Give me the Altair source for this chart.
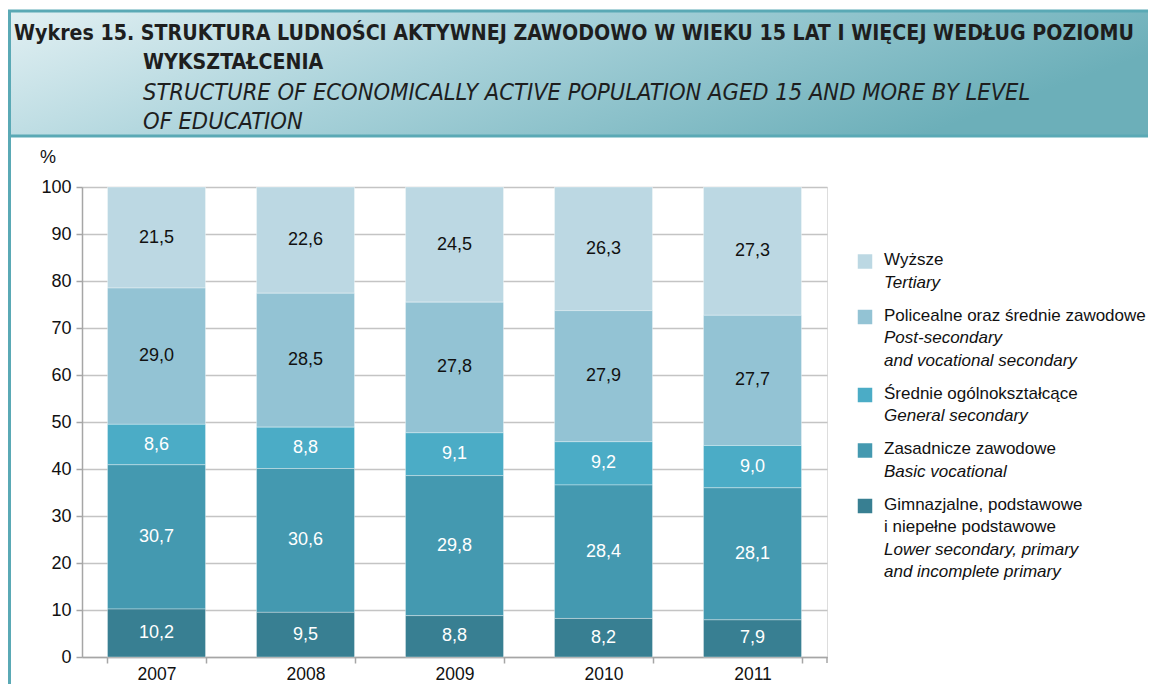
import altair as alt
import pandas as pd

# ---------------- data ----------------
years = ["2007", "2008", "2009", "2010", "2011"]
categories = [
    "Wyższe",
    "Policealne oraz średnie zawodowe",
    "Średnie ogólnokształcące",
    "Zasadnicze zawodowe",
    "Gimnazjalne, podstawowe i niepełne podstawowe",
]
tertiary = [21.5, 22.6, 24.5, 26.3, 27.3]
post_secondary = [29.0, 28.5, 27.8, 27.9, 27.7]
general_secondary = [8.6, 8.8, 9.1, 9.2, 9.0]
basic_vocational = [30.7, 30.6, 29.8, 28.4, 28.1]
lower_secondary = [10.2, 9.5, 8.8, 8.2, 7.9]

legend_pl = [
    ["Wyższe"],
    ["Policealne oraz średnie zawodowe"],
    ["Średnie ogólnokształcące"],
    ["Zasadnicze zawodowe"],
    ["Gimnazjalne, podstawowe", "i niepełne podstawowe"],
]
legend_en = [
    ["Tertiary"],
    ["Post-secondary", "and vocational secondary"],
    ["General secondary"],
    ["Basic vocational"],
    ["Lower secondary, primary", "and incomplete primary"],
]
title_bold = ["Wykres 15. STRUKTURA LUDNOŚCI AKTYWNEJ ZAWODOWO W WIEKU 15 LAT I WIĘCEJ WEDŁUG POZIOMU",
              "WYKSZTAŁCENIA"]
title_italic = ["STRUCTURE OF ECONOMICALLY ACTIVE POPULATION AGED 15 AND MORE BY LEVEL",
                "OF EDUCATION"]
y_unit = "%"

# ---------------- styles ----------------
colors = ["#bcd8e3", "#93c3d4", "#4bacc6", "#4499b0", "#387f92"]
FONT = "Liberation Sans"
NARROW = "'DejaVu Sans Condensed', 'Liberation Sans', sans-serif"
TEAL = "#5aa9b5"

series = [tertiary, post_secondary, general_secondary, basic_vocational, lower_secondary]
rows = []
for ci, (cat, vals) in enumerate(zip(categories, series)):
    for y, v in zip(years, vals):
        rows.append({"year": y, "category": cat, "value": v, "order": len(categories) - 1 - ci})
df = pd.DataFrame(rows)

color_scale = alt.Scale(domain=categories, range=colors)

base = alt.Chart(df)
bars = base.mark_bar(stroke="white", strokeWidth=1, strokeOpacity=0.35).encode(
    x=alt.X("year:N", sort=years,
            scale=alt.Scale(paddingInner=0.342, paddingOuter=0.171),
            axis=alt.Axis(title=None, labelAngle=0, labelFont=FONT, labelFontSize=17.5,
                          labelColor="#111", labelPadding=2, tickBand="extent",
                          tickColor="#a6a6a6", tickSize=6, domainColor="#a6a6a6",
                          domainWidth=1.5, tickWidth=1.5)),
    y=alt.Y("value:Q", stack="zero",
            scale=alt.Scale(domain=[0, 100], nice=False),
            axis=alt.Axis(title=None, values=list(range(0, 101, 10)), labelFont=FONT,
                          labelFontSize=18, labelColor="#111", labelPadding=5,
                          gridColor="#c4c4c4", gridWidth=1.5, tickColor="#a6a6a6",
                          tickSize=6, tickWidth=1.5, domainColor="#a6a6a6", domainWidth=1.5)),
    color=alt.Color("category:N", scale=color_scale, legend=None),
    order=alt.Order("order:Q"),
)

labels = base.transform_stack(
    stack="value", as_=["v0", "v1"], groupby=["year"], sort=[alt.SortField("order")]
).transform_calculate(
    mid="(datum.v0 + datum.v1) / 2",
    label="replace(format(datum.value, '.1f'), '.', ',')",
).mark_text(font=FONT, fontSize=18, baseline="middle").encode(
    x=alt.X("year:N", sort=years),
    y=alt.Y("mid:Q"),
    text="label:N",
    color=alt.condition("datum.order >= 3", alt.value("#111111"), alt.value("#ffffff")),
)

# ---------------- legend (manual, pixel layout computed here) ----------------
leg_rows, sq_rows = [], []
ypos = 73.0
STEP, GAP = 22.5, 10.5
for ci, cat in enumerate(categories):
    sq_rows.append({"category": cat, "py": ypos + 1.5})
    for t in legend_pl[ci]:
        leg_rows.append({"text": t, "style": "normal", "py": ypos})
        ypos += STEP
    for t in legend_en[ci]:
        leg_rows.append({"text": t, "style": "italic", "py": ypos})
        ypos += STEP
    ypos += GAP
leg_df = pd.DataFrame(leg_rows)
sq_df = pd.DataFrame(sq_rows)

leg_sq = alt.Chart(sq_df).mark_square(size=210, opacity=1).encode(
    x=alt.value(783),
    y=alt.Y("py:Q", scale=None),
    color=alt.Color("category:N", scale=color_scale, legend=None),
)
leg_norm = alt.Chart(leg_df).transform_filter("datum.style == 'normal'").mark_text(
    align="left", baseline="middle", font=FONT, fontSize=17, color="#111"
).encode(x=alt.value(802), y=alt.Y("py:Q", scale=None), text="text:N")
leg_ital = alt.Chart(leg_df).transform_filter("datum.style == 'italic'").mark_text(
    align="left", baseline="middle", font=FONT, fontSize=17, fontStyle="italic", color="#111"
).encode(x=alt.value(802), y=alt.Y("py:Q", scale=None), text="text:N")

# ---------------- banner / title ----------------
one = alt.Chart(pd.DataFrame({"a": [0]}))
banner = one.mark_rect(
    color=alt.LinearGradient(
        gradient="linear",
        stops=[alt.GradientStop(color="#e2f0f3", offset=0),
               alt.GradientStop(color="#a9d2da", offset=0.45),
               alt.GradientStop(color="#6cafb9", offset=1)],
        x1=0, y1=0, x2=1, y2=0.3),
).encode(x=alt.value(-74), x2=alt.value(1080), y=alt.value(-175), y2=alt.value(-51))
top_rule = one.mark_rule(color=TEAL, strokeWidth=3).encode(
    x=alt.value(-74), x2=alt.value(1080), y=alt.value(-176))
bot_rule = one.mark_rule(color=TEAL, strokeWidth=3).encode(
    x=alt.value(-74), x2=alt.value(1080), y=alt.value(-51))
left_rule = one.mark_rule(color=TEAL, strokeWidth=3).encode(
    x=alt.value(-72.5), y=alt.value(-177), y2=alt.value(500))
end_tick = one.mark_rule(color="#a6a6a6", strokeWidth=1.5).encode(
    x=alt.value(745), y=alt.value(470), y2=alt.value(476))

tb_df = pd.DataFrame({"text": title_bold, "px": [-68, 61], "py": [-153, -124]})
ti_df = pd.DataFrame({"text": title_italic, "px": [61, 61], "py": [-94, -65]})
t_bold = alt.Chart(tb_df).mark_text(
    align="left", baseline="middle", font=NARROW, fontSize=21.2, fontWeight="bold", color="#1e1e1e"
).encode(x=alt.X("px:Q", scale=None), y=alt.Y("py:Q", scale=None), text="text:N")
t_ital = alt.Chart(ti_df).mark_text(
    align="left", baseline="middle", font=NARROW, fontSize=23.5, fontStyle="italic", color="#1e1e1e"
).encode(x=alt.X("px:Q", scale=None), y=alt.Y("py:Q", scale=None), text="text:N")

unit = one.mark_text(font=FONT, fontSize=18, color="#111", baseline="middle").encode(
    x=alt.value(-34), y=alt.value(-29), text=alt.value(y_unit))

chart = alt.layer(
    banner, top_rule, bot_rule, left_rule, t_bold, t_ital, unit,
    bars, labels, end_tick, leg_sq, leg_norm, leg_ital,
).properties(
    width=745, height=470,
    autosize=alt.AutoSizeParams(type="none"),
    padding={"left": 74, "top": 179, "right": 321, "bottom": 27},
).configure_view(stroke=None).configure(background="white")

chart.save("out.html", embed_options={"renderer": "svg", "actions": False})
